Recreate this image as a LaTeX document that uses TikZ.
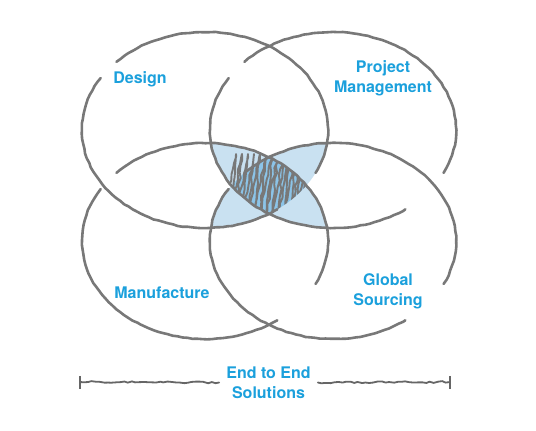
\documentclass[tikz,border=0pt]{standalone}
\usepackage{fontspec}
\setmainfont{TeX Gyre Heros}
\usepackage{xcolor}
\usetikzlibrary{decorations.pathmorphing}
\definecolor{sketchgray}{RGB}{120,120,120}
\definecolor{labelblue}{RGB}{27,160,220}
\definecolor{washblue}{RGB}{201,225,241}
\definecolor{coreblue}{RGB}{140,196,232}

\begin{document}
\begin{tikzpicture}[x=1pt,y=1pt,
ring/.style={x radius=123,y radius=98},
rough/.style={draw=sketchgray,line width=2.6pt,line cap=round,decorate,decoration={random steps,segment length=5pt,amplitude=.4pt}},
scribble/.style={draw=sketchgray,line width=1.9pt,line join=round,decorate,decoration={random steps,segment length=6pt,amplitude=1pt}},
wavy/.style={draw=sketchgray!85!black,line width=1.8pt,line cap=round,decorate,decoration={random steps,segment length=4pt,amplitude=.9pt}},
areaname/.style={text=labelblue,font=\bfseries\fontsize{16}{20}\selectfont,align=center}]
\useasboundingbox (0,0) rectangle (536,431);
\pgfmathsetseed{7}

\coordinate (design) at (205,301);
\coordinate (project) at (333,301);
\coordinate (manufacture) at (205,190);
\coordinate (global) at (333,190);

% blue wash where the rings overlap
\begin{scope}
\clip (design) ellipse[ring];
\fill[washblue] (global) ellipse[ring];
\end{scope}
\begin{scope}
\clip (project) ellipse[ring];
\fill[washblue] (manufacture) ellipse[ring];
\end{scope}
\begin{scope}
\clip (design) ellipse[ring];
\clip (project) ellipse[ring];
\clip (manufacture) ellipse[ring];
\fill[coreblue] (global) ellipse[ring];
\draw[scribble] (224,215) \foreach \i in {0,...,13} {-- ++(12,62) -- ++(-6,-62)};
\end{scope}

% the four rings, each with two gaps
\foreach \c in {design,project,manufacture,global} {
\draw[rough] (\c) ++(-26:123 and 98) arc[ring,start angle=-26,end angle=136];
\draw[rough] (\c) ++(148:123 and 98) arc[ring,start angle=148,end angle=306];
}

\node[areaname] (designtxt) at (140,352) {Design};
\node[areaname] (projecttxt) at (383,353) {Project\\Management};
\node[areaname] (manufacturetxt) at (162,138) {Manufacture};
\node[areaname] (globaltxt) at (388,140) {Global\\Sourcing};

% span line
\node[areaname,inner xsep=7pt] (solutions) at (268.5,48.5) {End to End\\Solutions};
\coordinate (leftend) at (80,49);
\coordinate (rightend) at (450,49);
\draw[wavy] (leftend) -- (solutions.west);
\draw[wavy] (solutions.east) -- (rightend);
\draw[sketchgray!85!black,line width=1.8pt] (leftend) +(0,6) -- +(0,-7);
\draw[sketchgray!85!black,line width=1.8pt] (rightend) +(0,6) -- +(0,-7);
\end{tikzpicture}
\end{document}
